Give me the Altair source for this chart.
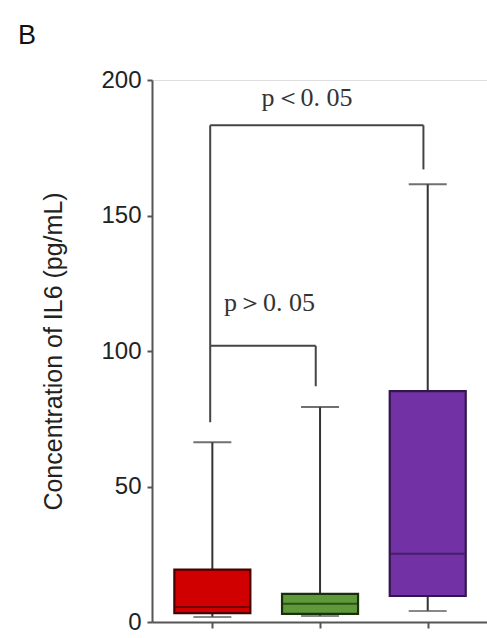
import altair as alt
import pandas as pd

# ---- data ----
group_pos = [1, 2, 3]
group_names = ["Group 1", "Group 2", "Group 3"]
whisker_low = [1.8, 2.2, 4.1]
q1 = [3.3, 3.0, 9.6]
median = [5.5, 6.7, 25.2]
q3 = [19.3, 10.4, 85.2]
whisker_high = [66.3, 79.3, 161.5]

bracket_x1 = [0.98, 0.98]
bracket_x2 = [2.96, 1.96]
bracket_y = [183.3, 101.9]
bracket_left_end = [73.7, 101.9]
bracket_right_end = [167.0, 87.0]
bracket_label = ["p\uff1c0. 05", "p\uff1e0. 05"]
label_x = [1.88, 1.53]
label_y = [190.4, 114.8]

fill_colors = ["#d10000", "#5f9a3a", "#7232a6"]
stroke_colors = ["#4a0000", "#1a300c", "#33164d"]

boxes = pd.DataFrame({
    "pos": group_pos, "group": group_names,
    "lo": whisker_low, "q1": q1, "med": median, "q3": q3, "hi": whisker_high,
})
brackets = pd.DataFrame({
    "x1": bracket_x1, "x2": bracket_x2, "y": bracket_y,
    "ly": bracket_left_end, "ry": bracket_right_end,
    "label": bracket_label, "tx": label_x, "ty": label_y,
})

xscale = alt.Scale(domain=[0.486, 3.504], nice=False, zero=False)
yscale = alt.Scale(domain=[0, 200], nice=False)

x_enc = alt.X("pos:Q", scale=xscale,
              axis=alt.Axis(values=group_pos, labels=False, title=None, grid=False,
                            tickSize=6, tickWidth=2, tickColor="#555",
                            domainColor="#555", domainWidth=2))
y_enc = alt.Y("lo:Q", scale=yscale,
              axis=alt.Axis(values=[0, 50, 100, 150, 200], grid=False,
                            title="Concentration of IL6 (pg/mL)",
                            titleFont="Liberation Sans", titleFontSize=25,
                            titleFontWeight="normal", titleColor="#222",
                            titlePadding=34,
                            labelFont="Liberation Sans", labelFontSize=24,
                            labelColor="#222", labelPadding=6,
                            tickSize=5, tickWidth=2, tickColor="#555",
                            domainColor="#555", domainWidth=2))

color = alt.Color("group:N", scale=alt.Scale(domain=group_names, range=fill_colors), legend=None)
stroke = alt.Stroke("group:N", scale=alt.Scale(domain=group_names, range=stroke_colors), legend=None)
med_color = alt.Color("group:N", scale=alt.Scale(domain=group_names, range=stroke_colors), legend=None)

whisk = alt.Chart(boxes).mark_rule(color="#333", strokeWidth=2).encode(
    x=x_enc, y=y_enc, y2="hi:Q")
caps_hi = alt.Chart(boxes).mark_tick(orient="horizontal", size=38, thickness=2, color="#333").encode(
    x="pos:Q", y="hi:Q")
caps_lo = alt.Chart(boxes).mark_tick(orient="horizontal", size=38, thickness=2, color="#555").encode(
    x="pos:Q", y="lo:Q")
box = alt.Chart(boxes).mark_bar(size=76, strokeWidth=2.2, opacity=1).encode(
    x="pos:Q", y="q1:Q", y2="q3:Q", color=color, stroke=stroke)
med = alt.Chart(boxes).mark_tick(orient="horizontal", size=74, thickness=2).encode(
    x="pos:Q", y="med:Q", color=med_color)

br_h = alt.Chart(brackets).mark_rule(color="#444", strokeWidth=2).encode(
    x="x1:Q", x2="x2:Q", y="y:Q")
br_l = alt.Chart(brackets).mark_rule(color="#444", strokeWidth=2).encode(
    x="x1:Q", y="ly:Q", y2="y:Q")
br_r = alt.Chart(brackets).mark_rule(color="#444", strokeWidth=2).encode(
    x="x2:Q", y="ry:Q", y2="y:Q")
txt = alt.Chart(brackets).mark_text(font="Liberation Serif", fontSize=26, color="#333",
                                    align="center", baseline="alphabetic").encode(
    x="tx:Q", y="ty:Q", text="label:N")

chart = alt.layer(whisk, caps_hi, caps_lo, box, med, br_h, br_l, br_r, txt).resolve_scale(
    color="independent"
).properties(
    width=335, height=542,
    title=alt.TitleParams("B", anchor="start", frame="group", dx=-134, dy=27, offset=24,
                          fontSize=27, font="Liberation Sans", fontWeight="normal",
                          color="#111", baseline="alphabetic"),
    autosize=alt.AutoSizeParams(type="none"),
    padding={"left": 152, "top": 80, "right": 0, "bottom": 16},
).configure_view(stroke=None).configure(background="white")

chart.save("out.html", embed_options={"renderer": "svg", "actions": False})
